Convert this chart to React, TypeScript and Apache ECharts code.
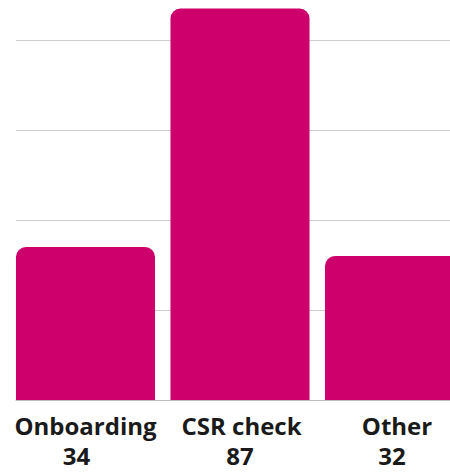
import React, { useEffect, useRef } from "react";
import * as echarts from "echarts";

const categories = ["Onboarding", "CSR check", "Other"];
const values = [34, 87, 32];
const yTicks = [0, 20, 40, 60, 80];

export default function App() {
  const ref = useRef<HTMLDivElement>(null);
  useEffect(() => {
    if (!ref.current) return;
    const chart = echarts.init(ref.current, null, { renderer: "svg" });
    const yMax = 88;
    const font = { fontFamily: "Open Sans", fontWeight: "bold", fontSize: 24, color: "#1a1a1a", lineHeight: 30 };
    chart.setOption({
      animation: false,
      grid: [
        { left: 16, right: 0, top: 4, height: 396, outerBoundsMode: "none", containLabel: false },
        { left: 8.25, width: 463.5, top: 4, height: 396, outerBoundsMode: "none", containLabel: false },
      ],
      xAxis: [
        {
          gridIndex: 0,
          type: "value",
          show: true,
          min: 0,
          max: 1,
          axisLine: { show: true, onZero: false, lineStyle: { color: "#bdbdbd", width: 1 } },
          axisTick: { show: false },
          axisLabel: { show: false },
          splitLine: { show: false },
        },
        {
          gridIndex: 1,
          type: "category",
          data: categories,
          axisLine: { show: false },
          axisTick: { show: false },
          axisLabel: {
            interval: 0,
            margin: 10,
            hideOverlap: false,
            formatter: (v: string, i: number) => `{a${i}|${v}}\n{b${i}|${values[i]}}`,
            rich: {
              a0: { ...font },
              b0: { ...font, padding: [0, 18, 0, 0] },
              a1: { ...font, padding: [0, 0, 0, 3] },
              b1: { ...font },
              a2: { ...font, padding: [0, 0, 0, 5] },
              b2: { ...font, padding: [0, 5, 0, 0] },
            },
          },
        },
      ],
      yAxis: [
        {
          gridIndex: 0,
          type: "value",
          min: yTicks[0],
          max: yMax,
          interval: yTicks[1] - yTicks[0],
          axisLine: { show: false },
          axisTick: { show: false },
          axisLabel: { show: false },
          splitLine: { show: true, showMinLine: false, showMaxLine: false, lineStyle: { color: "#cccccc", width: 1 } },
        },
        {
          gridIndex: 1,
          type: "value",
          min: 0,
          max: yMax,
          show: false,
          splitLine: { show: false },
        },
      ],
      series: [
        {
          type: "bar",
          xAxisIndex: 1,
          yAxisIndex: 1,
          data: values,
          barCategoryGap: "10%",
          itemStyle: { color: "#CE006C", borderRadius: [10, 10, 0, 0] },
        },
      ],
    });
    return () => chart.dispose();
  }, []);
  return <div ref={ref} style={{ position: "absolute", left: 0, top: 0, width: 450, height: 473 }} />;
}
